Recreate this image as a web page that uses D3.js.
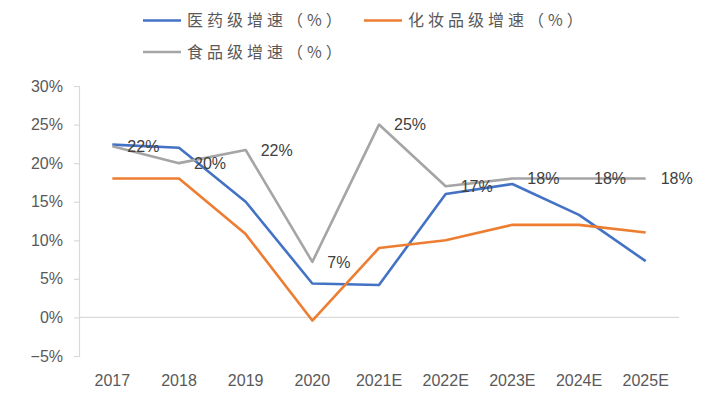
<!DOCTYPE html>
<html>
<head>
<meta charset="utf-8">
<script src="https://cdn.jsdelivr.net/npm/d3@7"></script>
<style>
  body { margin: 0; background: #fff; }
  text { font-family: "Liberation Sans", Arial, sans-serif; }
  .legend text { font-family: "Noto Sans CJK SC", sans-serif; }
</style>
</head>
<body>
<div id="chart"></div>
<script>
// data
var years = ["2017", "2018", "2019", "2020", "2021E", "2022E", "2023E", "2024E", "2025E"];
var pharma = [22.4, 22.0, 15.0, 4.4, 4.2, 16.0, 17.3, 13.3, 7.3];
var cosmetic = [18.0, 18.0, 10.8, -0.4, 9.0, 10.0, 12.0, 12.0, 11.0];
var food = [22.2, 20.0, 21.7, 7.2, 25.0, 17.0, 18.0, 18.0, 18.0];
var foodLabels = ["22%", "20%", "22%", "7%", "25%", "17%", "18%", "18%", "18%"];
var yTicks = [-5, 0, 5, 10, 15, 20, 25, 30];

var seriesNames = ["医药级增速（%）", "化妆品级增速（%）", "食品级增速（%）"];
var colors = ["#4472C4", "#ED7D31", "#A5A5A5"];

var width = 716, height = 395;
var margin = { top: 86, right: 37, bottom: 39, left: 79 };

var svg = d3.select("#chart").append("svg")
  .attr("width", width)
  .attr("height", height);

var x = d3.scaleBand()
  .domain(years)
  .range([margin.left, width - margin.right]);

var y = d3.scaleLinear()
  .domain([-5, 30])
  .range([height - margin.bottom, margin.top]);

// y axis
var yAxis = d3.axisLeft(y)
  .tickValues(yTicks)
  .tickSize(5)
  .tickPadding(11)
  .tickFormat(function (d) { return (d < 0 ? "\u2212" + (-d) : d) + "%"; });

var gy = svg.append("g")
  .attr("transform", "translate(" + margin.left + ",0)")
  .call(yAxis);
gy.select(".domain").attr("stroke", "#d9d9d9").attr("stroke-width", 1.2);
gy.selectAll(".tick line").attr("stroke", "#d9d9d9").attr("stroke-width", 1.2);
gy.selectAll(".tick text")
  .attr("fill", "#595959")
  .style("font-size", "16px");

// zero line
svg.append("line")
  .attr("x1", margin.left)
  .attr("x2", width - margin.right)
  .attr("y1", y(0))
  .attr("y2", y(0))
  .attr("stroke", "#d9d9d9")
  .attr("stroke-width", 1.2);

// x labels
var xAxis = d3.axisBottom(x).tickSize(0).tickPadding(0);
var gx = svg.append("g")
  .attr("transform", "translate(0," + (height - margin.bottom) + ")")
  .call(xAxis);
gx.select(".domain").remove();
gx.selectAll(".tick text")
  .attr("fill", "#595959")
  .attr("dy", "1.1em")
  .attr("y", 12)
  .style("font-size", "16px");

var line = d3.line()
  .x(function (d, i) { return x(years[i]) + x.bandwidth() / 2; })
  .y(function (d) { return y(d); });

[pharma, cosmetic, food].forEach(function (s, k) {
  svg.append("path")
    .datum(s)
    .attr("d", line)
    .attr("fill", "none")
    .attr("stroke", colors[k])
    .attr("stroke-width", 2.6)
    .attr("stroke-linejoin", "round");
});

// data labels on food line
svg.append("g").selectAll("text")
  .data(food)
  .join("text")
  .attr("x", function (d, i) { return x(years[i]) + x.bandwidth() / 2 + 15; })
  .attr("y", function (d) { return y(d); })
  .attr("dy", "0.36em")
  .attr("fill", "#404040")
  .style("font-size", "16px")
  .text(function (d, i) { return foodLabels[i]; });

// legend
var legendPos = [[143, 20.5], [364, 20.5], [143, 52]];
var legend = svg.append("g").attr("class", "legend");
seriesNames.forEach(function (name, k) {
  var p = legendPos[k];
  legend.append("line")
    .attr("x1", p[0]).attr("x2", p[0] + 38)
    .attr("y1", p[1]).attr("y2", p[1])
    .attr("stroke", colors[k])
    .attr("stroke-width", 2.6);
  legend.append("text")
    .attr("x", p[0] + 44)
    .attr("y", p[1])
    .attr("dy", "0.36em")
    .attr("fill", "#595959")
    .style("font-size", "16px")
    .style("letter-spacing", "4px")
    .text(name);
});
</script>
</body>
</html>
